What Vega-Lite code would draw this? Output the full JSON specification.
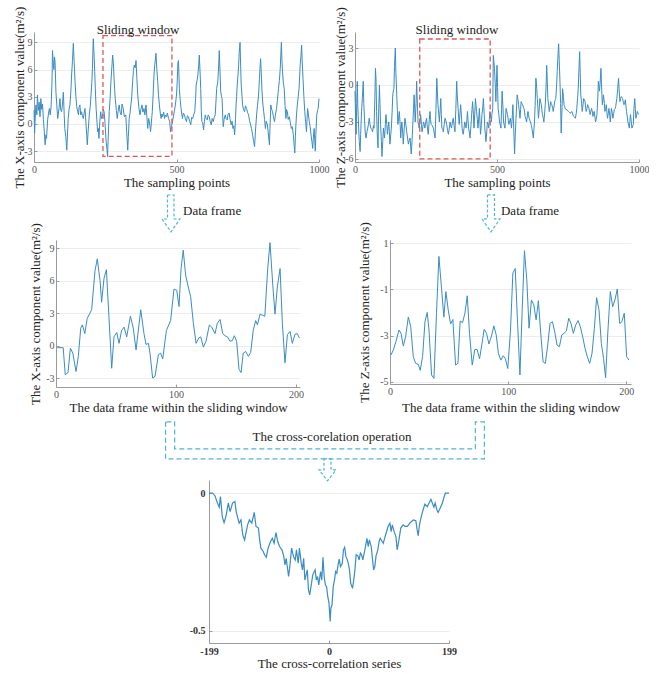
{
"$schema":"https://vega.github.io/schema/vega-lite/v6.json",
"background":"white",
"padding":{"left":12,"top":6,"right":0,"bottom":0},
"datasets":{
"p1":[{"x":0,"y":1.5},{"x":2,"y":-1.0},{"x":5,"y":1.2},{"x":7,"y":2.1},{"x":10,"y":1.0},{"x":12,"y":3.2},{"x":15,"y":1.5},{"x":18,"y":2.4},{"x":21,"y":0.8},{"x":24,"y":2.8},{"x":27,"y":1.6},{"x":30,"y":2.2},{"x":33,"y":0.5},{"x":36,"y":-0.8},{"x":39,"y":-2.3},{"x":42,"y":-1.2},{"x":44,"y":-1.6},{"x":48,"y":0.5},{"x":51,"y":1.2},{"x":54,"y":1.7},{"x":57,"y":1.0},{"x":60,"y":1.9},{"x":63,"y":4.5},{"x":65,"y":8.1},{"x":68,"y":6.5},{"x":70,"y":6.0},{"x":72,"y":7.4},{"x":74,"y":6.8},{"x":77,"y":3.5},{"x":80,"y":2.1},{"x":83,"y":0.6},{"x":85,"y":1.0},{"x":88,"y":1.8},{"x":91,"y":2.8},{"x":94,"y":1.5},{"x":97,"y":1.35},{"x":100,"y":2.2},{"x":103,"y":3.5},{"x":106,"y":1.0},{"x":108,"y":-0.5},{"x":112,"y":-1.5},{"x":115,"y":-2.9},{"x":118,"y":-0.8},{"x":120,"y":0.6},{"x":123,"y":1.6},{"x":126,"y":2.1},{"x":129,"y":3.4},{"x":132,"y":5.4},{"x":135,"y":7.0},{"x":138,"y":8.9},{"x":141,"y":6.8},{"x":144,"y":4.7},{"x":147,"y":3.0},{"x":150,"y":1.9},{"x":153,"y":1.4},{"x":156,"y":1.0},{"x":158,"y":1.8},{"x":161,"y":2.1},{"x":164,"y":1.0},{"x":167,"y":1.35},{"x":170,"y":0.9},{"x":173,"y":0.6},{"x":176,"y":1.2},{"x":179,"y":1.7},{"x":182,"y":0.2},{"x":185,"y":-1.2},{"x":187,"y":-2.3},{"x":190,"y":-0.8},{"x":194,"y":1.0},{"x":197,"y":1.8},{"x":200,"y":3.2},{"x":203,"y":4.6},{"x":205,"y":6.1},{"x":208,"y":9.4},{"x":211,"y":7.4},{"x":213,"y":5.75},{"x":216,"y":3.2},{"x":218,"y":1.7},{"x":221,"y":0.2},{"x":223,"y":-0.85},{"x":226,"y":-0.5},{"x":228,"y":-1.6},{"x":231,"y":0.3},{"x":234,"y":1.35},{"x":237,"y":0.6},{"x":241,"y":0.8},{"x":243,"y":1.6},{"x":246,"y":1.35},{"x":249,"y":0.2},{"x":253,"y":-1.9},{"x":256,"y":-2.8},{"x":258,"y":-3.6},{"x":261,"y":-1.0},{"x":264,"y":1.35},{"x":267,"y":2.8},{"x":270,"y":4.7},{"x":273,"y":6.2},{"x":276,"y":7.6},{"x":279,"y":6.4},{"x":281,"y":5.0},{"x":283,"y":3.8},{"x":285,"y":2.8},{"x":289,"y":1.5},{"x":292,"y":0.6},{"x":295,"y":1.4},{"x":299,"y":2.1},{"x":302,"y":1.3},{"x":306,"y":1.0},{"x":309,"y":2.2},{"x":313,"y":1.7},{"x":317,"y":0.8},{"x":322,"y":1.0},{"x":325,"y":-0.8},{"x":329,"y":-2.9},{"x":331,"y":-1.4},{"x":334,"y":0.6},{"x":337,"y":1.2},{"x":340,"y":2.1},{"x":343,"y":3.0},{"x":346,"y":4.7},{"x":349,"y":5.9},{"x":352,"y":6.5},{"x":355,"y":6.2},{"x":358,"y":7.0},{"x":361,"y":5.0},{"x":364,"y":3.2},{"x":368,"y":1.8},{"x":372,"y":1.0},{"x":375,"y":1.6},{"x":379,"y":2.1},{"x":382,"y":1.3},{"x":386,"y":1.7},{"x":389,"y":1.0},{"x":393,"y":2.1},{"x":396,"y":0.8},{"x":399,"y":-0.5},{"x":402,"y":0.6},{"x":405,"y":0.25},{"x":409,"y":-0.85},{"x":412,"y":0.2},{"x":415,"y":1.35},{"x":418,"y":3.2},{"x":421,"y":5.4},{"x":424,"y":6.6},{"x":428,"y":7.8},{"x":431,"y":6.0},{"x":434,"y":4.7},{"x":437,"y":3.1},{"x":440,"y":2.1},{"x":443,"y":1.2},{"x":446,"y":0.6},{"x":449,"y":1.1},{"x":451,"y":0.8},{"x":455,"y":1.3},{"x":458,"y":0.6},{"x":461,"y":1.0},{"x":465,"y":0.8},{"x":468,"y":1.2},{"x":472,"y":0.6},{"x":476,"y":0.3},{"x":479,"y":-0.85},{"x":482,"y":-0.3},{"x":486,"y":0.25},{"x":489,"y":0.8},{"x":492,"y":1.35},{"x":496,"y":2.1},{"x":500,"y":3.2},{"x":502,"y":4.3},{"x":505,"y":6.8},{"x":507,"y":7.0},{"x":510,"y":3.9},{"x":513,"y":2.6},{"x":516,"y":1.7},{"x":519,"y":1.0},{"x":521,"y":0.6},{"x":524,"y":1.2},{"x":528,"y":1.0},{"x":531,"y":0.6},{"x":535,"y":0.25},{"x":538,"y":0.9},{"x":542,"y":0.8},{"x":546,"y":0.3},{"x":550,"y":-0.1},{"x":553,"y":0.7},{"x":557,"y":0.6},{"x":560,"y":1.0},{"x":564,"y":1.35},{"x":567,"y":2.8},{"x":569,"y":4.3},{"x":572,"y":4.8},{"x":575,"y":5.4},{"x":578,"y":6.5},{"x":580,"y":7.6},{"x":583,"y":5.5},{"x":585,"y":3.9},{"x":587,"y":1.5},{"x":589,"y":0.25},{"x":592,"y":0.1},{"x":595,"y":-0.65},{"x":598,"y":0.3},{"x":601,"y":1.0},{"x":604,"y":0.6},{"x":608,"y":0.45},{"x":611,"y":1.0},{"x":615,"y":0.8},{"x":618,"y":0.3},{"x":622,"y":-0.1},{"x":625,"y":0.6},{"x":629,"y":0.25},{"x":632,"y":0.7},{"x":636,"y":1.0},{"x":638,"y":2.2},{"x":641,"y":3.9},{"x":645,"y":4.7},{"x":648,"y":6.4},{"x":650,"y":8.1},{"x":653,"y":5.5},{"x":655,"y":3.6},{"x":658,"y":3.0},{"x":660,"y":2.8},{"x":662,"y":1.0},{"x":664,"y":-0.3},{"x":667,"y":0.5},{"x":671,"y":1.0},{"x":674,"y":0.6},{"x":678,"y":0.45},{"x":681,"y":1.1},{"x":685,"y":1.2},{"x":688,"y":0.5},{"x":692,"y":-0.1},{"x":695,"y":0.3},{"x":698,"y":-0.5},{"x":701,"y":-0.2},{"x":704,"y":-1.2},{"x":707,"y":0.5},{"x":709,"y":2.1},{"x":711,"y":3.0},{"x":713,"y":4.3},{"x":716,"y":5.5},{"x":718,"y":6.5},{"x":720,"y":7.8},{"x":723,"y":9.0},{"x":725,"y":6.5},{"x":727,"y":4.3},{"x":730,"y":3.0},{"x":732,"y":2.1},{"x":735,"y":1.6},{"x":739,"y":1.35},{"x":742,"y":2.0},{"x":746,"y":1.7},{"x":749,"y":1.3},{"x":753,"y":1.0},{"x":756,"y":0.4},{"x":760,"y":-0.1},{"x":763,"y":-0.5},{"x":767,"y":-1.2},{"x":770,"y":-1.8},{"x":774,"y":-2.5},{"x":777,"y":-0.8},{"x":781,"y":1.0},{"x":784,"y":2.0},{"x":788,"y":3.2},{"x":791,"y":5.0},{"x":795,"y":7.2},{"x":797,"y":6.0},{"x":800,"y":3.6},{"x":803,"y":2.2},{"x":806,"y":1.35},{"x":809,"y":0.5},{"x":812,"y":-0.5},{"x":815,"y":0.3},{"x":819,"y":-0.1},{"x":822,"y":-1.0},{"x":826,"y":-2.3},{"x":828,"y":-0.5},{"x":831,"y":2.1},{"x":834,"y":1.6},{"x":837,"y":1.35},{"x":840,"y":0.8},{"x":844,"y":0.25},{"x":847,"y":1.0},{"x":851,"y":1.7},{"x":854,"y":2.6},{"x":858,"y":3.9},{"x":861,"y":4.8},{"x":864,"y":6.1},{"x":866,"y":7.6},{"x":868,"y":9.0},{"x":870,"y":7.0},{"x":872,"y":5.75},{"x":875,"y":4.5},{"x":878,"y":3.9},{"x":881,"y":2.0},{"x":884,"y":0.6},{"x":886,"y":1.6},{"x":889,"y":1.35},{"x":892,"y":0.5},{"x":896,"y":0.8},{"x":899,"y":0.2},{"x":903,"y":-0.5},{"x":906,"y":-0.3},{"x":910,"y":-1.2},{"x":913,"y":-2.4},{"x":915,"y":-3.2},{"x":917,"y":-1.5},{"x":919,"y":-0.1},{"x":921,"y":1.0},{"x":924,"y":2.1},{"x":927,"y":3.0},{"x":930,"y":3.9},{"x":932,"y":5.2},{"x":934,"y":6.5},{"x":937,"y":7.6},{"x":939,"y":8.7},{"x":941,"y":7.0},{"x":944,"y":5.0},{"x":947,"y":3.0},{"x":950,"y":1.35},{"x":953,"y":0.3},{"x":956,"y":-0.85},{"x":958,"y":0.5},{"x":960,"y":1.7},{"x":963,"y":1.0},{"x":966,"y":0.25},{"x":969,"y":-0.3},{"x":972,"y":-1.2},{"x":975,"y":-1.9},{"x":978,"y":-2.7},{"x":980,"y":-1.6},{"x":983,"y":-0.5},{"x":985,"y":-1.8},{"x":987,"y":-3.0},{"x":989,"y":-1.2},{"x":992,"y":1.0},{"x":995,"y":1.5},{"x":997,"y":1.7},{"x":1000,"y":2.8}],
"p2":[{"x":0,"y":-0.5},{"x":2,"y":-2.5},{"x":4,"y":-4.0},{"x":6,"y":-1.5},{"x":8,"y":0.3},{"x":10,"y":-1.8},{"x":13,"y":-3.5},{"x":15,"y":-4.6},{"x":18,"y":-5.4},{"x":20,"y":-4.0},{"x":23,"y":-2.15},{"x":26,"y":-1.0},{"x":29,"y":0.3},{"x":31,"y":-1.5},{"x":34,"y":-3.0},{"x":36,"y":-3.9},{"x":39,"y":-4.3},{"x":42,"y":-3.8},{"x":45,"y":-3.5},{"x":48,"y":-3.1},{"x":50,"y":-2.7},{"x":53,"y":-3.2},{"x":56,"y":-3.5},{"x":59,"y":-3.6},{"x":62,"y":-3.8},{"x":65,"y":-3.3},{"x":67,"y":-3.5},{"x":70,"y":-1.0},{"x":72,"y":1.35},{"x":74,"y":0.5},{"x":76,"y":-2.15},{"x":78,"y":-3.8},{"x":81,"y":-5.1},{"x":83,"y":-2.5},{"x":86,"y":0.0},{"x":88,"y":-1.5},{"x":90,"y":-3.2},{"x":93,"y":-4.6},{"x":95,"y":-5.8},{"x":98,"y":-4.5},{"x":100,"y":-3.5},{"x":102,"y":-3.9},{"x":104,"y":-4.3},{"x":107,"y":-3.2},{"x":109,"y":-2.4},{"x":112,"y":-3.2},{"x":114,"y":-4.0},{"x":117,"y":-3.4},{"x":119,"y":-3.0},{"x":121,"y":-3.8},{"x":123,"y":-4.8},{"x":126,"y":-4.0},{"x":128,"y":-3.5},{"x":131,"y":-2.0},{"x":133,"y":-0.8},{"x":135,"y":-0.5},{"x":137,"y":-0.3},{"x":139,"y":1.5},{"x":142,"y":3.0},{"x":144,"y":1.0},{"x":147,"y":-0.8},{"x":149,"y":-2.0},{"x":151,"y":-3.2},{"x":154,"y":-2.6},{"x":156,"y":-2.15},{"x":159,"y":-3.2},{"x":161,"y":-4.3},{"x":163,"y":-3.5},{"x":165,"y":-3.0},{"x":168,"y":-3.9},{"x":170,"y":-4.8},{"x":173,"y":-3.6},{"x":176,"y":-2.7},{"x":179,"y":-3.2},{"x":182,"y":-3.8},{"x":185,"y":-4.3},{"x":188,"y":-4.8},{"x":191,"y":-4.5},{"x":194,"y":-4.3},{"x":196,"y":-5.0},{"x":198,"y":-5.6},{"x":201,"y":-4.5},{"x":203,"y":-3.5},{"x":206,"y":-2.0},{"x":208,"y":-0.8},{"x":210,"y":-1.8},{"x":212,"y":-3.0},{"x":215,"y":-1.5},{"x":217,"y":0.3},{"x":220,"y":-1.8},{"x":222,"y":-3.0},{"x":224,"y":-3.3},{"x":226,"y":-3.5},{"x":229,"y":-3.0},{"x":231,"y":-2.4},{"x":234,"y":-3.2},{"x":236,"y":-3.8},{"x":239,"y":-3.4},{"x":241,"y":-3.0},{"x":244,"y":-3.2},{"x":246,"y":-3.5},{"x":249,"y":-3.0},{"x":252,"y":-2.7},{"x":255,"y":-3.5},{"x":258,"y":-4.0},{"x":261,"y":-3.0},{"x":264,"y":-2.15},{"x":266,"y":-2.8},{"x":268,"y":-3.2},{"x":272,"y":-3.3},{"x":276,"y":-3.5},{"x":279,"y":-3.9},{"x":282,"y":-4.3},{"x":285,"y":-2.0},{"x":288,"y":0.55},{"x":290,"y":-0.5},{"x":292,"y":-1.6},{"x":295,"y":-2.4},{"x":297,"y":-3.0},{"x":300,"y":-2.0},{"x":302,"y":-1.1},{"x":304,"y":-2.4},{"x":306,"y":-3.5},{"x":309,"y":-3.6},{"x":311,"y":-3.8},{"x":314,"y":-3.2},{"x":317,"y":-2.7},{"x":320,"y":-2.9},{"x":323,"y":-3.2},{"x":326,"y":-3.7},{"x":329,"y":-4.0},{"x":332,"y":-3.5},{"x":335,"y":-3.0},{"x":337,"y":-3.3},{"x":340,"y":-3.5},{"x":343,"y":-3.0},{"x":346,"y":-2.7},{"x":349,"y":-3.3},{"x":352,"y":-3.8},{"x":355,"y":-2.0},{"x":358,"y":0.3},{"x":360,"y":-0.8},{"x":363,"y":-1.9},{"x":365,"y":-2.6},{"x":367,"y":-3.2},{"x":370,"y":-2.2},{"x":372,"y":-1.6},{"x":375,"y":-2.6},{"x":377,"y":-3.5},{"x":379,"y":-3.8},{"x":381,"y":-4.0},{"x":384,"y":-3.5},{"x":386,"y":-3.0},{"x":389,"y":-3.2},{"x":391,"y":-3.5},{"x":394,"y":-2.8},{"x":396,"y":-2.15},{"x":398,"y":-2.9},{"x":400,"y":-3.5},{"x":403,"y":-3.9},{"x":405,"y":-4.3},{"x":408,"y":-3.4},{"x":410,"y":-2.7},{"x":412,"y":-2.0},{"x":414,"y":-1.35},{"x":417,"y":-2.4},{"x":419,"y":-3.5},{"x":422,"y":-2.2},{"x":424,"y":-1.1},{"x":426,"y":-1.6},{"x":428,"y":-2.15},{"x":431,"y":-2.8},{"x":433,"y":-3.5},{"x":436,"y":-2.6},{"x":438,"y":-1.9},{"x":440,"y":-3.0},{"x":442,"y":-4.0},{"x":445,"y":-3.2},{"x":447,"y":-2.4},{"x":450,"y":-1.8},{"x":452,"y":-1.1},{"x":455,"y":-2.4},{"x":457,"y":-3.5},{"x":459,"y":-4.0},{"x":461,"y":-4.6},{"x":464,"y":-3.8},{"x":466,"y":-3.0},{"x":469,"y":-3.2},{"x":471,"y":-3.5},{"x":473,"y":-2.8},{"x":475,"y":-2.15},{"x":478,"y":-2.6},{"x":480,"y":-3.0},{"x":482,"y":-2.4},{"x":485,"y":-1.9},{"x":487,"y":2.4},{"x":489,"y":1.9},{"x":491,"y":1.35},{"x":494,"y":0.0},{"x":496,"y":-1.35},{"x":498,"y":0.2},{"x":500,"y":1.6},{"x":502,"y":-0.2},{"x":504,"y":-1.9},{"x":507,"y":-2.5},{"x":509,"y":-3.0},{"x":512,"y":-3.3},{"x":514,"y":-3.5},{"x":516,"y":-2.0},{"x":518,"y":-0.5},{"x":521,"y":-1.8},{"x":523,"y":-3.0},{"x":526,"y":-3.3},{"x":528,"y":-3.5},{"x":530,"y":-2.7},{"x":532,"y":-1.9},{"x":535,"y":-2.2},{"x":537,"y":-2.4},{"x":540,"y":-2.9},{"x":542,"y":-3.2},{"x":545,"y":-2.9},{"x":547,"y":-2.7},{"x":549,"y":-3.1},{"x":551,"y":-3.5},{"x":554,"y":-2.5},{"x":556,"y":-1.6},{"x":559,"y":-3.6},{"x":562,"y":-5.6},{"x":564,"y":-4.2},{"x":567,"y":-2.7},{"x":569,"y":-1.7},{"x":571,"y":-0.8},{"x":574,"y":-1.2},{"x":576,"y":-1.6},{"x":579,"y":-2.2},{"x":581,"y":-2.7},{"x":583,"y":-2.0},{"x":585,"y":-1.35},{"x":588,"y":-1.5},{"x":590,"y":-1.6},{"x":593,"y":-1.8},{"x":595,"y":-1.9},{"x":597,"y":-2.2},{"x":599,"y":-2.55},{"x":602,"y":-2.8},{"x":604,"y":-3.0},{"x":607,"y":-2.5},{"x":609,"y":-2.15},{"x":611,"y":-2.4},{"x":613,"y":-2.7},{"x":616,"y":-2.9},{"x":618,"y":-3.0},{"x":621,"y":-3.3},{"x":623,"y":-3.5},{"x":626,"y":-4.0},{"x":628,"y":-4.3},{"x":630,"y":-3.6},{"x":632,"y":-3.0},{"x":635,"y":-1.2},{"x":637,"y":0.55},{"x":640,"y":-0.3},{"x":642,"y":-1.1},{"x":644,"y":-1.9},{"x":646,"y":-2.7},{"x":649,"y":-1.8},{"x":651,"y":-1.1},{"x":654,"y":-1.4},{"x":656,"y":-1.6},{"x":658,"y":-2.0},{"x":660,"y":-2.4},{"x":663,"y":-2.7},{"x":665,"y":-3.0},{"x":668,"y":-2.2},{"x":670,"y":-1.6},{"x":673,"y":0.0},{"x":675,"y":1.6},{"x":677,"y":0.3},{"x":679,"y":-1.1},{"x":682,"y":-1.7},{"x":684,"y":-2.15},{"x":687,"y":-1.7},{"x":689,"y":-1.35},{"x":691,"y":-1.5},{"x":693,"y":-1.6},{"x":696,"y":-1.9},{"x":698,"y":-2.15},{"x":701,"y":-1.7},{"x":703,"y":-1.35},{"x":705,"y":-1.2},{"x":707,"y":-1.1},{"x":710,"y":0.0},{"x":712,"y":1.1},{"x":715,"y":2.5},{"x":717,"y":3.35},{"x":719,"y":2.0},{"x":721,"y":0.8},{"x":724,"y":-1.5},{"x":726,"y":-3.9},{"x":729,"y":-1.8},{"x":731,"y":-0.3},{"x":734,"y":-1.0},{"x":736,"y":-1.6},{"x":738,"y":-1.75},{"x":740,"y":-1.9},{"x":743,"y":-2.0},{"x":746,"y":-2.0},{"x":749,"y":-2.1},{"x":752,"y":-2.15},{"x":755,"y":-2.2},{"x":758,"y":-2.3},{"x":761,"y":-2.2},{"x":764,"y":-2.15},{"x":767,"y":-2.4},{"x":770,"y":-2.55},{"x":773,"y":-2.6},{"x":776,"y":-2.7},{"x":779,"y":-2.3},{"x":781,"y":-1.9},{"x":784,"y":-1.0},{"x":786,"y":-0.3},{"x":789,"y":1.5},{"x":791,"y":2.7},{"x":793,"y":1.0},{"x":795,"y":-0.8},{"x":798,"y":-1.5},{"x":800,"y":-2.15},{"x":803,"y":-1.6},{"x":805,"y":-1.1},{"x":808,"y":-1.2},{"x":810,"y":-1.35},{"x":812,"y":-1.8},{"x":814,"y":-2.15},{"x":817,"y":-1.9},{"x":819,"y":-1.6},{"x":822,"y":-1.75},{"x":824,"y":-1.9},{"x":826,"y":-2.2},{"x":828,"y":-2.4},{"x":831,"y":-2.1},{"x":833,"y":-1.9},{"x":836,"y":-2.2},{"x":838,"y":-2.55},{"x":840,"y":-2.3},{"x":842,"y":-2.15},{"x":845,"y":-2.6},{"x":847,"y":-3.0},{"x":850,"y":-2.7},{"x":852,"y":-2.4},{"x":855,"y":-1.0},{"x":857,"y":0.3},{"x":859,"y":-0.2},{"x":861,"y":-0.5},{"x":864,"y":0.5},{"x":866,"y":1.35},{"x":868,"y":0.0},{"x":871,"y":-1.6},{"x":873,"y":-1.2},{"x":875,"y":-0.8},{"x":878,"y":-1.5},{"x":880,"y":-2.15},{"x":883,"y":-1.9},{"x":885,"y":-1.6},{"x":887,"y":-2.2},{"x":889,"y":-2.7},{"x":892,"y":-2.3},{"x":894,"y":-1.9},{"x":897,"y":-2.5},{"x":899,"y":-3.0},{"x":901,"y":-2.4},{"x":903,"y":-1.9},{"x":906,"y":-2.3},{"x":908,"y":-2.7},{"x":911,"y":-2.3},{"x":913,"y":-2.0},{"x":916,"y":-1.9},{"x":918,"y":-1.75},{"x":920,"y":-1.4},{"x":922,"y":-1.1},{"x":925,"y":-0.3},{"x":928,"y":0.55},{"x":930,"y":-0.4},{"x":933,"y":-1.35},{"x":935,"y":-1.1},{"x":937,"y":-0.95},{"x":940,"y":-1.0},{"x":942,"y":-1.1},{"x":945,"y":-1.4},{"x":947,"y":-1.6},{"x":950,"y":-1.4},{"x":952,"y":-1.2},{"x":954,"y":-1.7},{"x":956,"y":-2.15},{"x":959,"y":-2.6},{"x":961,"y":-3.0},{"x":964,"y":-3.3},{"x":966,"y":-3.5},{"x":968,"y":-2.9},{"x":970,"y":-2.4},{"x":973,"y":-3.0},{"x":975,"y":-3.5},{"x":978,"y":-3.3},{"x":980,"y":-3.2},{"x":982,"y":-2.0},{"x":985,"y":-1.1},{"x":987,"y":-1.9},{"x":989,"y":-2.7},{"x":992,"y":-2.4},{"x":994,"y":-2.15},{"x":997,"y":-2.3},{"x":999,"y":-2.4}],
"p3":[{"x":1,"y":-0.2},{"x":6,"y":-0.2},{"x":7.7,"y":-2.7},{"x":10,"y":-2.5},{"x":12,"y":-0.25},{"x":14,"y":-0.7},{"x":16.7,"y":-2.4},{"x":18.6,"y":-1},{"x":20.6,"y":1.6},{"x":22,"y":1.9},{"x":24,"y":1.1},{"x":26,"y":2.5},{"x":29.7,"y":3.3},{"x":32.5,"y":6.9},{"x":34.4,"y":8.0},{"x":36.7,"y":6.0},{"x":38,"y":4.0},{"x":40,"y":6.2},{"x":42,"y":7.0},{"x":46.4,"y":-2.1},{"x":48.3,"y":0.8},{"x":50.6,"y":1.2},{"x":52.5,"y":0.2},{"x":54.7,"y":1.4},{"x":56.7,"y":1.7},{"x":58.9,"y":0.8},{"x":62,"y":2.7},{"x":64.4,"y":1.6},{"x":66.7,"y":-0.4},{"x":70.6,"y":3.3},{"x":73.3,"y":1.1},{"x":75,"y":0.1},{"x":77,"y":0.2},{"x":78.3,"y":-0.7},{"x":80.5,"y":-3.0},{"x":82.5,"y":-2.85},{"x":85.3,"y":-0.85},{"x":87.2,"y":-0.7},{"x":88.9,"y":-1.25},{"x":92,"y":1.4},{"x":95.5,"y":2.3},{"x":98.3,"y":5.2},{"x":100.6,"y":5.1},{"x":102.5,"y":3.6},{"x":104.2,"y":7.1},{"x":106,"y":8.8},{"x":108,"y":6.5},{"x":110.2,"y":5.4},{"x":112.2,"y":4.5},{"x":114.4,"y":2.1},{"x":116.7,"y":0.2},{"x":119,"y":0.7},{"x":120.6,"y":0.8},{"x":122.8,"y":-0.15},{"x":125,"y":0.4},{"x":127.8,"y":1.9},{"x":129.7,"y":1.7},{"x":132.5,"y":1.1},{"x":134.4,"y":2.05},{"x":136.7,"y":2.4},{"x":138.9,"y":1.1},{"x":140.8,"y":0.9},{"x":142.8,"y":0.8},{"x":145,"y":0.4},{"x":146.9,"y":0.45},{"x":148.6,"y":0.9},{"x":150.5,"y":0.4},{"x":152.5,"y":-2.2},{"x":154.2,"y":-2.5},{"x":156,"y":-0.7},{"x":158,"y":-0.55},{"x":160.3,"y":-1},{"x":162.2,"y":-0.65},{"x":164.4,"y":1.45},{"x":166.4,"y":2.3},{"x":167.8,"y":1.9},{"x":170,"y":2.9},{"x":172,"y":2.8},{"x":174,"y":2.7},{"x":176.4,"y":7.1},{"x":178.3,"y":9.5},{"x":180.6,"y":5.6},{"x":182.5,"y":2.9},{"x":184.4,"y":5.4},{"x":186.7,"y":7.1},{"x":188.6,"y":2.05},{"x":190.8,"y":-1.6},{"x":192.8,"y":1.0},{"x":195,"y":1.3},{"x":196.9,"y":0.2},{"x":199.2,"y":1.05},{"x":201,"y":1.1},{"x":202.8,"y":0.7}],
"p4":[{"x":0.8,"y":-3.84},{"x":2.8,"y":-3.62},{"x":5,"y":-3.26},{"x":7.6,"y":-2.76},{"x":9.3,"y":-2.9},{"x":11.3,"y":-3.45},{"x":13.2,"y":-3.05},{"x":15.5,"y":-2.2},{"x":17.5,"y":-2.6},{"x":19.7,"y":-3.9},{"x":21.7,"y":-4.2},{"x":24,"y":-4.25},{"x":25.6,"y":-4.5},{"x":27.6,"y":-3.9},{"x":29.6,"y":-2.4},{"x":31.5,"y":-2.0},{"x":33,"y":-2.76},{"x":35.2,"y":-4.7},{"x":37.2,"y":-4.85},{"x":39.4,"y":-2.0},{"x":41.4,"y":0.42},{"x":43.7,"y":-1.02},{"x":45.6,"y":-2.2},{"x":47.3,"y":-1.1},{"x":49.3,"y":-1.9},{"x":51.3,"y":-2.5},{"x":53.2,"y":-2.3},{"x":55.5,"y":-4.27},{"x":57.5,"y":-4.2},{"x":59.4,"y":-2.37},{"x":61.4,"y":-2.44},{"x":63.4,"y":-2.04},{"x":65.4,"y":-1.28},{"x":67.3,"y":-2.9},{"x":69.6,"y":-4.27},{"x":71.8,"y":-3.6},{"x":73.8,"y":-3.6},{"x":75.8,"y":-4.0},{"x":77.7,"y":-3.4},{"x":79.7,"y":-2.73},{"x":81.7,"y":-2.9},{"x":83.7,"y":-3.36},{"x":85.9,"y":-3.02},{"x":87.9,"y":-2.58},{"x":89.9,"y":-2.97},{"x":91.8,"y":-3.77},{"x":93.8,"y":-4.06},{"x":95.8,"y":-3.87},{"x":97.7,"y":-4.0},{"x":99.7,"y":-4.42},{"x":102,"y":-2.76},{"x":104,"y":-0.3},{"x":106,"y":-0.1},{"x":108,"y":-2.47},{"x":110,"y":-4.7},{"x":111.8,"y":-2.03},{"x":113.8,"y":0.67},{"x":115.8,"y":-0.59},{"x":117.7,"y":-2.68},{"x":119.7,"y":-1.46},{"x":121.7,"y":-1.67},{"x":123.7,"y":-2.32},{"x":125.6,"y":-1.49},{"x":127.6,"y":-2.9},{"x":129.6,"y":-4.13},{"x":131.5,"y":-4.2},{"x":133.5,"y":-3.41},{"x":135.5,"y":-2.47},{"x":137.5,"y":-2.4},{"x":139.4,"y":-2.83},{"x":141.4,"y":-3.41},{"x":143.4,"y":-3.48},{"x":145.4,"y":-2.97},{"x":147.3,"y":-2.9},{"x":149.3,"y":-2.8},{"x":151.3,"y":-2.25},{"x":153.2,"y":-2.47},{"x":155.2,"y":-2.9},{"x":157.2,"y":-2.54},{"x":159.2,"y":-2.35},{"x":161.1,"y":-2.61},{"x":163.1,"y":-3.05},{"x":165.1,"y":-3.55},{"x":167,"y":-3.91},{"x":169,"y":-4.2},{"x":171,"y":-3.77},{"x":173,"y":-2.68},{"x":174.9,"y":-1.36},{"x":176.9,"y":-1.89},{"x":178.9,"y":-3.34},{"x":180.8,"y":-3.99},{"x":182.5,"y":-4.82},{"x":184.5,"y":-2.76},{"x":186.5,"y":-1.1},{"x":188.5,"y":-1.75},{"x":190.4,"y":-1.46},{"x":192.4,"y":-0.99},{"x":194.4,"y":-2.47},{"x":196.3,"y":-2.4},{"x":198.3,"y":-2.03},{"x":200.3,"y":-3.91},{"x":202.3,"y":-4.06}],
"p5":[{"x":-199,"y":0.0},{"x":-193,"y":0.0},{"x":-189,"y":-0.01},{"x":-185,"y":-0.036},{"x":-182,"y":-0.051},{"x":-180,"y":-0.012},{"x":-177,"y":-0.085},{"x":-174,"y":-0.107},{"x":-171,"y":-0.085},{"x":-167,"y":-0.036},{"x":-164,"y":-0.067},{"x":-160,"y":-0.036},{"x":-156,"y":-0.03},{"x":-154,"y":-0.067},{"x":-149,"y":-0.109},{"x":-146,"y":-0.097},{"x":-143,"y":-0.152},{"x":-140,"y":-0.17},{"x":-135,"y":-0.115},{"x":-132,"y":-0.097},{"x":-128,"y":-0.109},{"x":-124,"y":-0.07},{"x":-121,"y":-0.121},{"x":-117,"y":-0.127},{"x":-115,"y":-0.17},{"x":-113,"y":-0.2},{"x":-109,"y":-0.212},{"x":-107,"y":-0.224},{"x":-104,"y":-0.233},{"x":-101,"y":-0.2},{"x":-97,"y":-0.176},{"x":-94,"y":-0.164},{"x":-91,"y":-0.182},{"x":-88,"y":-0.143},{"x":-85,"y":-0.176},{"x":-82,"y":-0.194},{"x":-78,"y":-0.206},{"x":-75,"y":-0.23},{"x":-73,"y":-0.261},{"x":-71,"y":-0.237},{"x":-67,"y":-0.303},{"x":-65,"y":-0.267},{"x":-62,"y":-0.2},{"x":-59,"y":-0.23},{"x":-56,"y":-0.243},{"x":-54,"y":-0.206},{"x":-51,"y":-0.255},{"x":-49,"y":-0.2},{"x":-46,"y":-0.255},{"x":-44,"y":-0.279},{"x":-42,"y":-0.237},{"x":-40,"y":-0.316},{"x":-36,"y":-0.279},{"x":-34,"y":-0.352},{"x":-32,"y":-0.37},{"x":-29,"y":-0.328},{"x":-27,"y":-0.297},{"x":-23,"y":-0.279},{"x":-21,"y":-0.316},{"x":-19,"y":-0.303},{"x":-17,"y":-0.334},{"x":-14,"y":-0.285},{"x":-12,"y":-0.316},{"x":-10,"y":-0.233},{"x":-8,"y":-0.303},{"x":-6,"y":-0.334},{"x":-4,"y":-0.34},{"x":-2,"y":-0.376},{"x":0,"y":-0.4},{"x":2,"y":-0.467},{"x":3,"y":-0.419},{"x":5,"y":-0.407},{"x":7,"y":-0.34},{"x":9,"y":-0.316},{"x":11,"y":-0.285},{"x":13,"y":-0.291},{"x":15,"y":-0.261},{"x":17,"y":-0.24},{"x":19,"y":-0.267},{"x":22,"y":-0.255},{"x":24,"y":-0.206},{"x":26,"y":-0.197},{"x":28,"y":-0.23},{"x":30,"y":-0.24},{"x":32,"y":-0.255},{"x":34,"y":-0.279},{"x":36,"y":-0.328},{"x":39,"y":-0.346},{"x":41,"y":-0.316},{"x":43,"y":-0.279},{"x":45,"y":-0.224},{"x":48,"y":-0.228},{"x":50,"y":-0.243},{"x":52,"y":-0.218},{"x":54,"y":-0.224},{"x":56,"y":-0.243},{"x":59,"y":-0.212},{"x":61,"y":-0.188},{"x":63,"y":-0.164},{"x":65,"y":-0.194},{"x":67,"y":-0.17},{"x":70,"y":-0.194},{"x":72,"y":-0.237},{"x":74,"y":-0.279},{"x":76,"y":-0.267},{"x":78,"y":-0.228},{"x":81,"y":-0.206},{"x":83,"y":-0.176},{"x":85,"y":-0.164},{"x":87,"y":-0.172},{"x":90,"y":-0.182},{"x":93,"y":-0.158},{"x":95,"y":-0.143},{"x":98,"y":-0.121},{"x":101,"y":-0.109},{"x":103,"y":-0.14},{"x":105,"y":-0.115},{"x":108,"y":-0.14},{"x":111,"y":-0.158},{"x":113,"y":-0.206},{"x":116,"y":-0.17},{"x":119,"y":-0.127},{"x":123,"y":-0.115},{"x":126,"y":-0.121},{"x":130,"y":-0.121},{"x":134,"y":-0.109},{"x":137,"y":-0.103},{"x":140,"y":-0.097},{"x":144,"y":-0.1},{"x":146,"y":-0.131},{"x":148,"y":-0.155},{"x":150,"y":-0.115},{"x":153,"y":-0.085},{"x":156,"y":-0.061},{"x":159,"y":-0.04},{"x":163,"y":-0.049},{"x":166,"y":-0.036},{"x":169,"y":-0.022},{"x":171,"y":-0.034},{"x":174,"y":-0.051},{"x":176,"y":-0.036},{"x":179,"y":-0.061},{"x":181,"y":-0.07},{"x":185,"y":-0.051},{"x":188,"y":-0.036},{"x":191,"y":-0.012},{"x":193,"y":0.0},{"x":199,"y":0.0}]
},
"bounds":"flush",
"spacing":0,
"vconcat":[
{"bounds":"flush","spacing":0,"hconcat":[
 {"width":285,"height":130,
  "encoding":{
   "x":{"field":"x","type":"quantitative","scale":{"domain":[0,1000],"nice":false,"zero":false},"axis":{"values":[0,500,1000],"title":"The sampling points","titleY":20,"titleBaseline":"middle"}},
   "y":{"field":"y","type":"quantitative","scale":{"domain":[-4.2,10.15],"nice":false,"zero":false},"axis":{"values":[-3,0,3,6,9],"title":"The X-axis component value(m²/s)","titleX":-15,"titleBaseline":"middle","grid":true}}
  },
  "layer":[
   {"data":{"name":"p1"},"mark":{"type":"line","color":"#3a8cc4","strokeWidth":1}},
   {"data":{"values":[{"x":242,"x2":484,"y":9.76,"y2":-3.57}]},"mark":{"type":"rect","filled":false,"color":"#e05656","strokeDash":[5,3],"strokeWidth":1.3},"encoding":{"x2":{"field":"x2"},"y2":{"field":"y2"}}},
   {"data":{"values":[{"x":365,"y":10.32,"label":"Sliding window"}]},"mark":{"type":"text","font":"Liberation Serif","fontSize":13,"color":"#222","baseline":"middle","align":"center"},"encoding":{"text":{"field":"label"}}},
   {"data":{"values":[{"x":523,"y":-9.6,"label":"Data frame"}]},"mark":{"type":"text","font":"Liberation Serif","fontSize":13,"color":"#222","baseline":"middle","align":"left"},"encoding":{"text":{"field":"label"}}},
   {"data":{"values":[{"i":0,"x":468.4,"y":-7.84},{"i":1,"x":491.2,"y":-7.84},{"i":2,"x":491.2,"y":-10.49},{"i":3,"x":512.3,"y":-10.49},{"i":4,"x":480.7,"y":-11.92},{"i":5,"x":449.1,"y":-10.49},{"i":6,"x":468.4,"y":-10.49},{"i":7,"x":468.4,"y":-7.84}]},"mark":{"type":"line","color":"#4db6d6","strokeDash":[3,2],"strokeWidth":1.2},"encoding":{"order":{"field":"i"}}}
  ]},
 {"width":36,"height":1,"data":{"values":[{}]},"mark":{"type":"point","opacity":0}},
 {"width":284,"height":130,
  "encoding":{
   "x":{"field":"x","type":"quantitative","scale":{"domain":[0,1000],"nice":false,"zero":false},"axis":{"values":[0,500,1000],"title":"The sampling points","titleY":20,"titleBaseline":"middle"}},
   "y":{"field":"y","type":"quantitative","scale":{"domain":[-6.25,4.3],"nice":false,"zero":false},"axis":{"values":[-6,-3,0,3],"title":"The Z-axis component value(m²/s)","titleX":-15,"titleBaseline":"middle","grid":true}}
  },
  "layer":[
   {"data":{"name":"p2"},"mark":{"type":"line","color":"#3a8cc4","strokeWidth":1}},
   {"data":{"values":[{"x":228,"x2":476,"y":3.73,"y2":-6.0}]},"mark":{"type":"rect","filled":false,"color":"#e05656","strokeDash":[5,3],"strokeWidth":1.3},"encoding":{"x2":{"field":"x2"},"y2":{"field":"y2"}}},
   {"data":{"values":[{"x":359,"y":4.43,"label":"Sliding window"}]},"mark":{"type":"text","font":"Liberation Serif","fontSize":13,"color":"#222","baseline":"middle","align":"center"},"encoding":{"text":{"field":"label"}}},
   {"data":{"values":[{"x":514,"y":-10.2,"label":"Data frame"}]},"mark":{"type":"text","font":"Liberation Serif","fontSize":13,"color":"#222","baseline":"middle","align":"left"},"encoding":{"text":{"field":"label"}}},
   {"data":{"values":[{"i":0,"x":466.5,"y":-8.92},{"i":1,"x":491.2,"y":-8.92},{"i":2,"x":491.2,"y":-10.87},{"i":3,"x":510.6,"y":-10.87},{"i":4,"x":478.9,"y":-11.92},{"i":5,"x":447.2,"y":-10.87},{"i":6,"x":466.5,"y":-10.87},{"i":7,"x":466.5,"y":-8.92}]},"mark":{"type":"line","color":"#4db6d6","strokeDash":[3,2],"strokeWidth":1.2},"encoding":{"order":{"field":"i"}}}
  ]}
]},
{"width":1,"height":208,"data":{"values":[{}]},"mark":{"type":"point","opacity":0}},
{"bounds":"flush","spacing":0,"hconcat":[
 {"width":22,"height":1,"data":{"values":[{}]},"mark":{"type":"point","opacity":0}},
 {"width":244,"height":147,
  "encoding":{
   "x":{"field":"x","type":"quantitative","scale":{"domain":[0,203.3],"nice":false,"zero":false},"axis":{"values":[0,100,200],"title":"The data frame within the sliding window","titleY":20,"titleBaseline":"middle"}},
   "y":{"field":"y","type":"quantitative","scale":{"domain":[-3.83,9.74],"nice":false,"zero":false},"axis":{"values":[-3,0,3,6,9],"title":"The X-axis component value(m²/s)","titleX":-21,"titleBaseline":"middle","grid":true}}
  },
  "layer":[
   {"data":{"name":"p3"},"mark":{"type":"line","color":"#3a8cc4","strokeWidth":1}}
  ]},
 {"width":90,"height":1,"data":{"values":[{}]},"mark":{"type":"point","opacity":0}},
 {"width":241,"height":144,
  "encoding":{
   "x":{"field":"x","type":"quantitative","scale":{"domain":[0,204],"nice":false,"zero":false},"axis":{"values":[0,100,200],"title":"The data frame within the sliding window","titleY":23,"titleBaseline":"middle"}},
   "y":{"field":"y","type":"quantitative","scale":{"domain":[-5.09,1.13],"nice":false,"zero":false},"axis":{"values":[-5,-3,-1,1],"title":"The Z-axis component value(m²/s)","titleX":-25.5,"titleBaseline":"middle","grid":true}}
  },
  "layer":[
   {"data":{"name":"p4"},"mark":{"type":"line","color":"#3a8cc4","strokeWidth":1}}
  ]}
]},
{"width":1,"height":240,"data":{"values":[{}]},"mark":{"type":"point","opacity":0}},
{"bounds":"flush","spacing":0,"hconcat":[
 {"width":175,"height":1,"data":{"values":[{}]},"mark":{"type":"point","opacity":0}},
 {"width":240,"height":163,
  "encoding":{
   "x":{"field":"x","type":"quantitative","scale":{"domain":[-199,199],"nice":false,"zero":false},"axis":{"values":[-199,0,199],"title":"The cross-correlation series","titleY":20,"titleBaseline":"middle","labelFontWeight":"bold","labelColor":"#333","labelPadding":6}},
   "y":{"field":"y","type":"quantitative","scale":{"domain":[-0.545,0.048],"nice":false,"zero":false},"axis":{"values":[0,-0.5],"title":null,"grid":true,"labelFontWeight":"bold","labelColor":"#333","labelPadding":7}}
  },
  "layer":[
   {"data":{"name":"p5"},"mark":{"type":"line","color":"#3a8cc4","strokeWidth":1.2}},
   {"data":{"values":[{"i":0,"x":-271,"y":0.2596},{"i":1,"x":-271,"y":0.1249},{"i":2,"x":257.7,"y":0.1249},{"i":3,"x":257.7,"y":0.2596},{"i":4,"x":242.7,"y":0.2596},{"i":5,"x":242.7,"y":0.1613},{"i":6,"x":-256,"y":0.1613},{"i":7,"x":-256,"y":0.2596},{"i":8,"x":-271,"y":0.2596}]},"mark":{"type":"line","color":"#4db6d6","strokeDash":[5,3],"strokeWidth":1.2},"encoding":{"order":{"field":"i"}}},
   {"data":{"values":[{"i":0,"x":-8.3,"y":0.1249},{"i":1,"x":3.3,"y":0.1249},{"i":2,"x":3.3,"y":0.0848},{"i":3,"x":11.6,"y":0.0848},{"i":4,"x":-2.5,"y":0.0448},{"i":5,"x":-16.6,"y":0.0848},{"i":6,"x":-8.3,"y":0.0848},{"i":7,"x":-8.3,"y":0.1249}]},"mark":{"type":"line","color":"#4db6d6","strokeDash":[3,2],"strokeWidth":1.2},"encoding":{"order":{"field":"i"}}},
   {"data":{"values":[{"x":5,"y":0.205,"label":"The cross-corelation operation"}]},"mark":{"type":"text","font":"Liberation Serif","fontSize":13,"color":"#222","baseline":"middle","align":"center"},"encoding":{"text":{"field":"label"}}}
  ]}
]}
],
"config":{
 "view":{"stroke":null},
 "axis":{"domainColor":"#9a9a9a","tickColor":"#9a9a9a","tickSize":-3,"labelPadding":5,"labelFont":"Liberation Serif","labelFontSize":10,"labelColor":"#555","titleFont":"Liberation Serif","titleFontSize":13,"titleFontWeight":"normal","titleColor":"#222","grid":false,"gridColor":"#ededed","labelFlush":false,"labelExpr":"'' + datum.value"}
}
}
